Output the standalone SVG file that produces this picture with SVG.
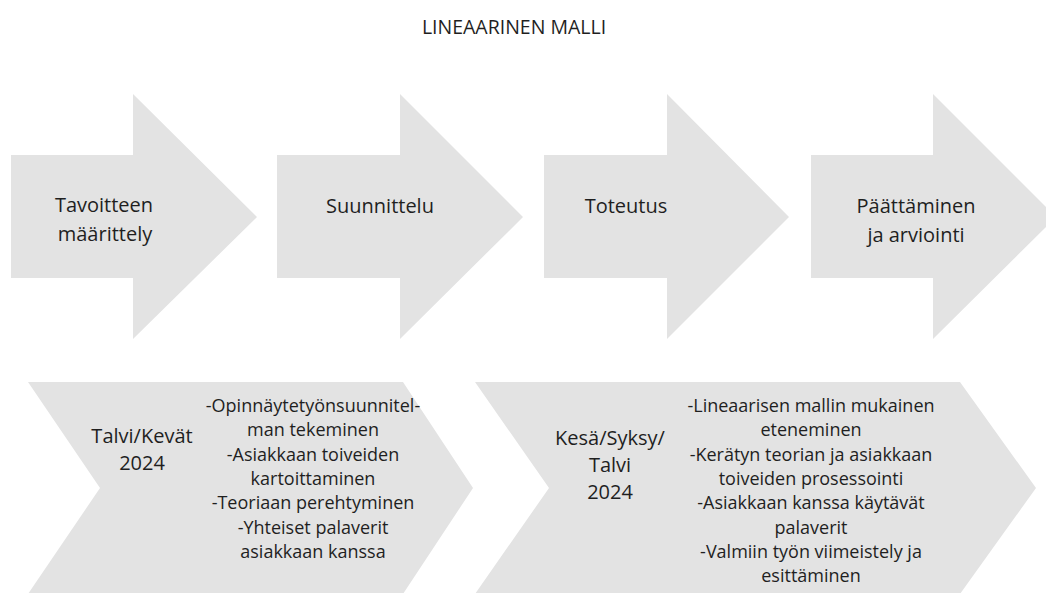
<svg xmlns="http://www.w3.org/2000/svg" width="1046" height="593" viewBox="0 0 1046 593">
<style>
.shape{fill:#e3e3e3;stroke:none}
.t{font-family:"Open Sans","Liberation Sans",sans-serif;fill:#1f1f1f;text-anchor:middle}
.big{font-size:20px}
.small{font-size:18px}
.title{font-size:19.5px}
</style>
<rect width="1046" height="593" fill="#ffffff"/>
<text class="t title" x="514" y="34">LINEAARINEN MALLI</text>
<g id="arrow1">
<polygon class="shape" points="11,155 133,155 133,94 257,217 133,339 133,278 11,278"/>
<text class="t big" x="104" y="212">Tavoitteen</text>
<text class="t big" x="105" y="241">määrittely</text>
</g>
<g id="arrow2">
<polygon class="shape" points="277,155 400,155 400,94 523,217 400,339 400,278 277,278"/>
<text class="t big" x="380" y="213">Suunnittelu</text>
</g>
<g id="arrow3">
<polygon class="shape" points="544,155 667,155 667,94 789,217 667,339 667,278 544,278"/>
<text class="t big" x="626" y="213">Toteutus</text>
</g>
<g id="arrow4">
<polygon class="shape" points="811,155 933,155 933,94 1056,217 933,339 933,278 811,278"/>
<text class="t big" x="916" y="213">Päättäminen</text>
<text class="t big" x="916" y="242">ja arviointi</text>
</g>
<g id="chevron1">
<polygon class="shape" points="28,382 403,382 473,488 403,594 28,594 100,488"/>
<text class="t big" x="142" y="443">Talvi/Kevät</text>
<text class="t big" x="142" y="470">2024</text>
<text class="t small" x="313" y="412">-Opinnäytetyönsuunnitel-</text>
<text class="t small" x="313" y="436.3">man tekeminen</text>
<text class="t small" x="313" y="460.6">-Asiakkaan toiveiden</text>
<text class="t small" x="313" y="484.9">kartoittaminen</text>
<text class="t small" x="313" y="509.2">-Teoriaan perehtyminen</text>
<text class="t small" x="313" y="533.5">-Yhteiset palaverit</text>
<text class="t small" x="313" y="557.8">asiakkaan kanssa</text>
</g>
<g id="chevron2">
<polygon class="shape" points="475,382 960,382 1036,488 960,594 475,594 549,488"/>
<text class="t big" x="610" y="445">Kesä/Syksy/</text>
<text class="t big" x="610" y="472">Talvi</text>
<text class="t big" x="610" y="499">2024</text>
<text class="t small" x="811" y="412">-Lineaarisen mallin mukainen</text>
<text class="t small" x="811" y="436.3">eteneminen</text>
<text class="t small" x="811" y="460.6">-Kerätyn teorian ja asiakkaan</text>
<text class="t small" x="811" y="484.9">toiveiden prosessointi</text>
<text class="t small" x="811" y="509.2">-Asiakkaan kanssa käytävät</text>
<text class="t small" x="811" y="533.5">palaverit</text>
<text class="t small" x="811" y="557.8">-Valmiin työn viimeistely ja</text>
<text class="t small" x="811" y="582.1">esittäminen</text>
</g>
<g id="connectors"></g>
</svg>
